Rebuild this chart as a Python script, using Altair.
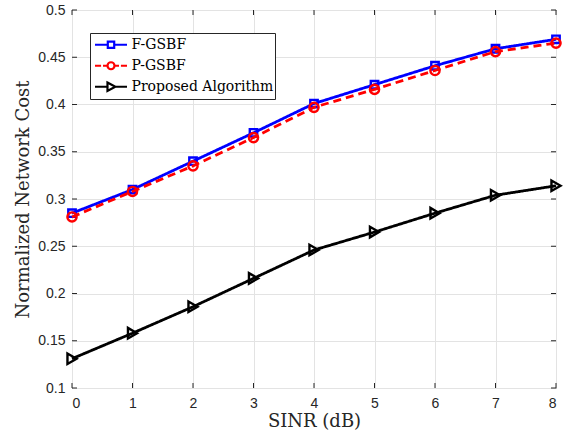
import altair as alt
import pandas as pd

# ---- data ----
sinr = [0, 1, 2, 3, 4, 5, 6, 7, 8]
f_gsbf = [0.285, 0.310, 0.340, 0.370, 0.401, 0.421, 0.441, 0.459, 0.469]
p_gsbf = [0.281, 0.308, 0.335, 0.365, 0.397, 0.416, 0.436, 0.456, 0.465]
proposed = [0.131, 0.158, 0.186, 0.216, 0.246, 0.265, 0.285, 0.304, 0.314]

series_names = ["F-GSBF", "P-GSBF", "Proposed Algorithm"]
series_colors = ["#0000ff", "#ff0000", "#000000"]
series_dash = [[1, 0], [8, 5], [1, 0]]
series_shapes = ["square", "circle", "triangle-right"]
series_msize = [55, 85, 110]
x_ticks = [0, 1, 2, 3, 4, 5, 6, 7, 8]
y_ticks = [0.1, 0.15, 0.2, 0.25, 0.3, 0.35, 0.4, 0.45, 0.5]

rows = []
for name, vals in zip(series_names, [f_gsbf, p_gsbf, proposed]):
    for x, y in zip(sinr, vals):
        rows.append({"SINR": x, "Cost": y, "Series": name})
df = pd.DataFrame(rows)

W, H = 484, 378
AX = "#262626"

xs = alt.Scale(domain=[0, 8], nice=False, zero=False)
ys = alt.Scale(domain=[0.1, 0.5], nice=False, zero=False)

x_enc = alt.X("SINR:Q", scale=xs, axis=alt.Axis(
    values=x_ticks, title="SINR (dB)", format="d", tickSize=0, domain=False,
    labelPadding=8, titlePadding=2))
y_enc = alt.Y("Cost:Q", scale=ys, axis=alt.Axis(
    values=y_ticks, title="Normalized Network Cost", format=".2~f", tickSize=0,
    domain=False, labelPadding=7, titlePadding=5))

base = alt.Chart(df)

layers = []
for name, col, dash, shp, sz in zip(series_names, series_colors, series_dash,
                                    series_shapes, series_msize):
    sub = base.transform_filter(alt.datum.Series == name)
    layers.append(sub.mark_line(strokeWidth=2.8, color=col, strokeDash=dash)
                  .encode(x=x_enc, y=y_enc))
    layers.append(sub.mark_point(shape=shp, size=sz, filled=False, strokeWidth=2.4,
                                 opacity=1, color=col)
                  .encode(x="SINR:Q", y="Cost:Q"))

# inward ticks like the original box axes
ytick_df = pd.DataFrame({"v": y_ticks})
xtick_df = pd.DataFrame({"v": x_ticks})
tick_style = dict(color=AX, strokeWidth=1)
layers.append(alt.Chart(ytick_df).mark_rule(**tick_style).encode(
    y=alt.Y("v:Q", scale=ys), x=alt.value(0), x2=alt.value(5)))
layers.append(alt.Chart(ytick_df).mark_rule(**tick_style).encode(
    y=alt.Y("v:Q", scale=ys), x=alt.value(W - 5), x2=alt.value(W)))
layers.append(alt.Chart(xtick_df).mark_rule(**tick_style).encode(
    x=alt.X("v:Q", scale=xs), y=alt.value(H - 5), y2=alt.value(H)))
layers.append(alt.Chart(xtick_df).mark_rule(**tick_style).encode(
    x=alt.X("v:Q", scale=xs), y=alt.value(0), y2=alt.value(5)))

# legend symbols: line + marker, drawn as custom paths
legend_paths = [
    "M-1,0H-0.2M0.2,0H1M-0.2,-0.2H0.2V0.2H-0.2Z",
    "M-1,0H-0.62M-0.5,0H-0.24M0.24,0H0.5M0.62,0H1"
    "M0.22,0A0.22,0.22 0 1,1 -0.22,0A0.22,0.22 0 1,1 0.22,0Z",
    "M-1,0H-0.22M0.27,0H1M-0.22,-0.26L0.27,0L-0.22,0.26Z",
]
layers.append(base.mark_point(filled=False, opacity=0, strokeWidth=2.2).encode(
    x="SINR:Q", y="Cost:Q",
    color=alt.Color("Series:N", scale=alt.Scale(domain=series_names, range=series_colors),
                    legend=alt.Legend(title=None)),
    shape=alt.Shape("Series:N", scale=alt.Scale(domain=series_names, range=legend_paths),
                    legend=alt.Legend(title=None)),
))

chart = alt.layer(*layers).properties(
    width=W, height=H,
    autosize=alt.AutoSizeParams(type="none"),
    padding={"left": 72, "top": 10, "right": 7, "bottom": 50},
).configure_view(
    stroke=AX, strokeWidth=1
).configure_axis(
    labelFont="Liberation Sans", labelFontSize=14, labelColor=AX,
    titleFont="DejaVu Serif", titleFontSize=18, titleFontWeight="normal",
    titleColor=AX, gridColor="#e3e3e3", gridWidth=1,
).configure_legend(
    orient="none", legendX=18, legendY=23,
    strokeColor=AX, fillColor="white", padding=1.5, cornerRadius=0,
    symbolSize=1024, symbolStrokeWidth=2.2, symbolOffset=2, symbolOpacity=1,
    labelFont="DejaVu Serif", labelFontSize=14, labelColor="black",
    labelOffset=3, clipHeight=20.5, rowPadding=0, labelLimit=0,
)

chart.save("out.html", embed_options={"renderer": "svg", "actions": False})
